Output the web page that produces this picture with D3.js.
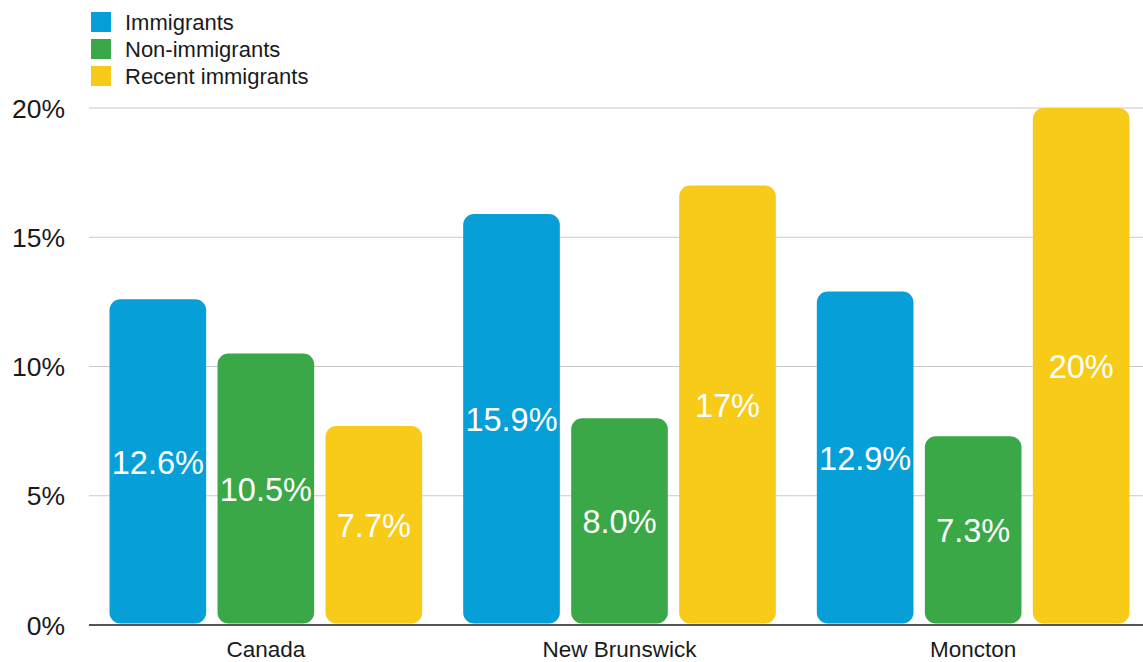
<!DOCTYPE html>
<html>
<head>
<meta charset="utf-8">
<script src="https://cdn.jsdelivr.net/npm/d3@7"></script>
<style>
  html, body { margin: 0; padding: 0; background: #fff; }
  svg { display: block; font-family: "Liberation Sans", Arial, Helvetica, sans-serif; }
</style>
</head>
<body>
<svg id="chart" width="1143" height="662"></svg>
<script>
// Regions on the x axis
const regions = ["Canada", "New Brunswick", "Moncton"];
// Series names in legend order
const seriesNames = ["Immigrants", "Non-immigrants", "Recent immigrants"];
// Values (%) per region for each series
const immigrants = [12.6, 15.9, 12.9];
const nonImmigrants = [10.5, 8.0, 7.3];
const recentImmigrants = [7.7, 17, 20];
// Bar labels as printed
const immigrantsLabels = ["12.6%", "15.9%", "12.9%"];
const nonImmigrantsLabels = ["10.5%", "8.0%", "7.3%"];
const recentImmigrantsLabels = ["7.7%", "17%", "20%"];
// Y axis ticks
const yTicks = [0, 5, 10, 15, 20];
const yTickLabels = ["0%", "5%", "10%", "15%", "20%"];

const colors = ["#069fd8", "#3aa847", "#f7cb18"];

const seriesValues = [immigrants, nonImmigrants, recentImmigrants];
const seriesLabels = [immigrantsLabels, nonImmigrantsLabels, recentImmigrantsLabels];

const svg = d3.select("#chart");
const plot = { left: 89, right: 1150, top: 108, bottom: 625 };

const y = d3.scaleLinear().domain([0, 20]).range([plot.bottom, plot.top]);
const x0 = d3.scaleBand().domain(regions).range([plot.left, plot.right]).paddingInner(0).paddingOuter(0);
const x1 = d3.scaleBand().domain(seriesNames).range([20.5, x0.bandwidth() - 20.5]).paddingInner(0.105).paddingOuter(0);

// Gridlines
svg.append("g")
  .selectAll("line")
  .data(yTicks.filter(d => d > 0))
  .join("line")
  .attr("x1", plot.left).attr("x2", 1143)
  .attr("y1", d => y(d)).attr("y2", d => y(d))
  .attr("stroke", "#c9c9c9").attr("stroke-width", 1.2);

// Y tick labels
svg.append("g")
  .selectAll("text")
  .data(yTicks)
  .join("text")
  .attr("x", 65)
  .attr("y", d => y(d))
  .attr("dy", "0.36em")
  .attr("text-anchor", "end")
  .attr("font-size", 26.5)
  .attr("fill", "#1a1a1a")
  .text((d, i) => yTickLabels[i]);

// Bars
const rows = [];
regions.forEach((r, ri) => {
  seriesNames.forEach((s, si) => {
    rows.push({ region: r, series: s, si, value: seriesValues[si][ri], label: seriesLabels[si][ri] });
  });
});

const groups = svg.append("g");
groups.selectAll("rect")
  .data(rows)
  .join("rect")
  .attr("x", d => x0(d.region) + x1(d.series))
  .attr("width", x1.bandwidth())
  .attr("y", d => y(d.value))
  .attr("height", d => y(0) - y(d.value) - 1.5)
  .attr("rx", 11).attr("ry", 11)
  .attr("fill", d => colors[d.si]);

// Value labels centred in each bar
groups.selectAll("text")
  .data(rows)
  .join("text")
  .attr("x", d => x0(d.region) + x1(d.series) + x1.bandwidth() / 2)
  .attr("y", d => (y(d.value) + y(0)) / 2)
  .attr("dy", "0.36em")
  .attr("text-anchor", "middle")
  .attr("font-size", 32.5)
  .attr("fill", "#ffffff")
  .text(d => d.label);

// Baseline
svg.append("line")
  .attr("x1", plot.left).attr("x2", 1143)
  .attr("y1", y(0)).attr("y2", y(0))
  .attr("stroke", "#555").attr("stroke-width", 2);

// Region labels
svg.append("g")
  .selectAll("text")
  .data(regions)
  .join("text")
  .attr("x", d => x0(d) + x0.bandwidth() / 2)
  .attr("y", 657)
  .attr("text-anchor", "middle")
  .attr("font-size", 22.5)
  .attr("fill", "#1a1a1a")
  .text(d => d);

// Legend
const legend = svg.append("g");
seriesNames.forEach((s, i) => {
  const yy = 12 + i * 27;
  legend.append("rect")
    .attr("x", 91).attr("y", yy).attr("width", 20).attr("height", 20)
    .attr("fill", colors[i]);
  legend.append("text")
    .attr("x", 125).attr("y", yy + 10).attr("dy", "0.36em")
    .attr("font-size", 22).attr("fill", "#1a1a1a")
    .text(s);
});
</script>
</body>
</html>
